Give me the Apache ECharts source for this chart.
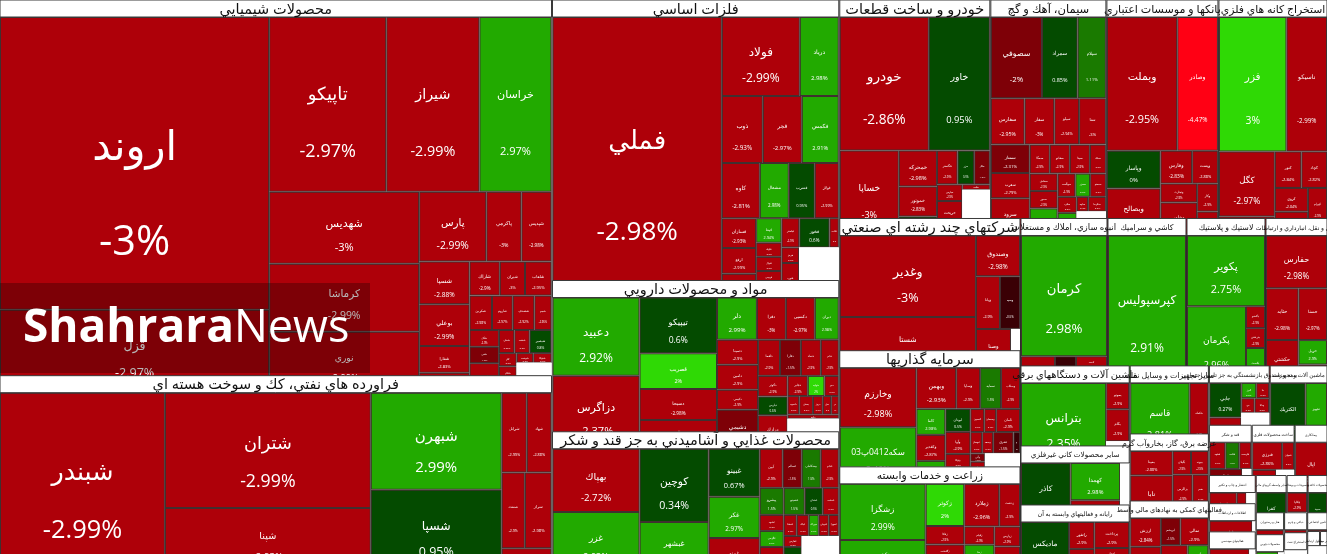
<!DOCTYPE html>
<html>
<head>
<meta charset="utf-8">
<style>
html, body { margin: 0; padding: 0; width: 1327px; height: 554px; overflow: hidden; background: #fff; }
#container { width: 1327px; height: 571px; }
</style>
<script src="https://cdn.jsdelivr.net/npm/echarts@6/dist/echarts.min.js"></script>
</head>
<body>
<div id="container"></div>
<script>
// each sector: tickers, tile sizes, % change. '' = empty white tile
var chemNames = ['اروند','قزل','تاپيكو','شيراز','خراسان','شهديس','كرماشا','نوري','پارس','پاكرمي','شپديس','شسپا','بوعلي','شفارا','شكلر','شاراك','شيران','شلعاب','شكربن','شاروم','شصدف','شجم','شگل','شفن','شيمي','شملي','شنفت','شبصير','كلر','شكام','سبلان','شوينده','شتوكا',''];
var chemValues = [78817,22058,20475,16275,12600,10800,10200,9000,4690,2450,2100,2150,2100,1350,950,1032,860,903,774,713,744,589,496,480,840,357,352,506,234,252,198,160,176,1010];
var chemChanges = [-3,-2.97,-2.97,-2.99,2.97,-3,-2.99,-2.99,-2.99,-3,-2.98,-2.88,-2.99,-2.83,-2.9,-2.9,-3,-2.95,-2.98,-2.97,-2.92,-2.96,-2.9,-1.5,-2.9,-2.95,-2.9,0.8,-2.9,-2.9,-2.9,-2.9,-2.9,null];

var oilNames = ['شبندر','شتران','شپنا','شبهرن','شسپا','شرانل','شهاد','شنفت','سراز','شپاس'];
var oilValues = [29370,23690,12978,12707,10611,2000,1976,1748,2016,1134];
var oilChanges = [-2.99,-2.99,-2.93,2.99,0.95,-2.99,-2.88,-2.9,-2.98,-2.9];

var metalNames = ['فملي','فولاد','درياد','ذوب','فجر','فكمس','كاوه','مشعال','فسرب','فولاژ','فسازان','ارفع','فرود','فپنتا','فلوله','فنوال','فروس','فاسمين','فباهنر','فخوز','فلات','هرمز','فنورد',''];
var metalValues = [47320,6162,3081,2747,2613,2479,2090,1595,1430,1320,1020,884,782,624,360,360,336,312,520,884,273,273,588,1944];
var metalChanges = [-2.98,-2.99,2.98,-2.93,-2.97,2.91,-2.81,2.98,0.95,-2.99,-2.93,-2.99,-2.9,2.94,-2.9,-2.9,-2.9,-2.9,-2.9,0.6,-2.9,-2.9,-2.9,null];

var drugNames = ['دعبيد','دزاگرس','تيپيكو','قصريب','دسبحا','دالبر','دلر','دفرا','دكسپي','ديران','دسينا','دامين','دكيمي','دشيمي','دلقما','دفارا','دتماد','ددام','دكوثر','دپارس','درازك','دجابر','دتوليد','ديپر','داسوه','پخش','دروز','دشيري','دروپ','داوه',''];
var drugValues = [6786,6264,4312,2772,2387,2150,1680,1218,1218,1008,1025,1025,820,1558,792,756,720,648,609,551,957,408,336,288,216,252,182,154,140,216,1484];
var drugChanges = [2.92,-2.37,0.6,2,-2.98,-2.9,2.99,-3,-2.97,2.98,-2.9,-2.9,-2.9,-1.5,-2.9,-1.5,-2.9,-2.9,-2.9,0.6,-2.9,-2.9,2,-2.9,-2.9,-2.9,-2.9,-2.9,-2.9,-2.9,null];

var foodNames = ['بهپاك','غزر','كوچين','غبشهر','غبينو','غكر','غپينو','آبين','غسالم','پيشگامان','غدام','پيشرو','غصينو','غشان','غدشت','غشهد','غگرجي','غمارگ','غنيشا','غپاك','خوراك','غنوش','غمهرا','غفارس','غالبر',''];
var foodValues = [5481,5133,5037,3381,2448,2091,1683,897,741,741,702,648,567,486,432,384,384,576,273,252,210,210,210,198,432,1295];
var foodChanges = [-2.72,2.93,0.34,2.9,0.67,2.97,-2.9,-2.9,-1.5,1.5,-2.9,1.5,1.5,0.5,-2.9,-2.9,2.9,-2.9,-2.9,-2.9,2.9,-2.9,-2.9,-2.9,0.5,null];

var autoNames = ['خودرو','خاور','خساپا','خمحركه','خموتور','خپويا','خگستر','خزر','خكار','خپارس','خريخت','خبهمن','خلنت',''];
var autoValues = [11837,8113,4930,1369,1140,684,693,561,528,420,651,195,150,1221];
var autoChanges = [-2.86,0.95,-3,-2.98,-2.83,0.5,-2.9,0.5,-1.5,-2.9,-2.9,-2.9,-2.9,null];

var cementNames = ['سصوفي','سمراد','سيلام','سفارس','سفار','سيلو','سنا','سمتاز','سغرب','سرود','سمگا','سفانو','سيتا','سيلك','سخاش','سدور','سجام','سهگمت','سخزر','سبجنو','سكرد','كرتا','ساوه','سكرما',''];
var cementValues = [4160,2900,2300,1564,1380,1150,1242,1102,988,1406,580,580,580,464,486,486,729,414,345,368,306,414,168,260,672];
var cementChanges = [-2,0.85,1.11,-2.95,-3,-2.94,-3,-2.31,-2.79,-2.9,-2.9,-2.9,-2.9,-2.9,-2.9,-2.9,2.9,-2.9,2.9,-2.9,-2.9,2.9,-2.9,-2.9,null];

var bankNames = ['وبملت','وصادر','وپاسار','وبصالح','وفارس','وپست','وتجارت','وخاور','وكار','وسينا'];
var bankValues = [9514,5494,2052,2484,1056,858,703,1184,588,483];
var bankChanges = [-2.95,-4.47,0,-2.83,-2.83,-2.88,-2.9,-2.9,-2.9,-2.9];

var mineNames = ['فزر','ناسيكو','كگل','ومعادن','كنور','كچاد','كروي','كبافق','كهرام',''];
var mineValues = [9000,5400,3596,1000,962,925,780,750,680,200];
var mineChanges = [3,-2.99,-2.97,-2.9,-2.84,-2.82,-2.84,-2.82,-2.9,null];

var multiNames = ['وغدير','شستا','وصندوق','وپانا','وسپه','وصنا',''];
var multiValues = [11152,6800,1804,1272,1060,1330,342];
var multiChanges = [-3,-2.93,-2.98,-2.9,-0.5,-2.9,null];

var investNames = ['وخارزم','سكه0412پ03','وبهمن','وساپا','سمايه','وسكاب','كاما','وكغدير','ثنوسا','لبوتان','وآوا','وتوكا','وتوسم','كيسون','وسبحان','ثامان','ثبهساز','وسعد','ثشرق','وسنا','وآتي','وملي','ونيكي',''];
var investValues = [4560,4256,1640,984,861,779,754,754,638,575,550,350,375,322,276,552,252,234,432,140,120,154,154,1032];
var investChanges = [-2.98,2.46,-2.93,-2.9,1.5,-2.9,2.98,-2.87,2.9,0.5,-2.9,-2.9,-2.9,-2.9,-2.9,-2.9,-2.9,-2.9,-1.5,-0.5,-1.5,-2.9,-1.5,null];

var farmNames = ['زشگزا','زكشت','زكوثر','زفكا','زگلدشت','زماهان','زملارد','زدشت','زقيام','زبينا','زشريف','زپارس','زنجان'];
var farmValues = [4760,2635,1610,700,525,490,1472,874,540,459,324,506,622];
var farmChanges = [2.99,2.9,2,-2.9,-2.9,-2.9,-2.96,-2.9,-2.9,2.9,-2.9,-2.9,-2.9];

var buildNames = ['كرمان','ثباغ','ثغرب','ثاخت',''];
var buildValues = [10527,884,546,416,390];
var buildChanges = [2.98,-2.9,-0.5,-2.9,null];

var ceramicNames = ['كپرسپوليس'];
var ceramicValues = [10112];
var ceramicChanges = [2.91];

var plasticNames = ['پكوير','پكرمان','پاكشو','پدرخش','پلاست'];
var plasticValues = [5538,4484,418,380,646];
var plasticChanges = [2.75,2.96,-2.9,-2.9,2.9];

var transportNames = ['حفارس','حتايد','حسنا','حكشتي','حريل','حپترو'];
var transportValues = [3286,1716,1508,1386,714,504];
var transportChanges = [-2.98,-2.98,-2.97,-2.85,2.9,-2.9];

var electricNames = ['بترانس','بموتو','بكام',''];
var electricValues = [6640,598,728,468];
var electricChanges = [2.35,-2.9,-2.9,null];

var mineralNames = ['كاذر','كهمدا','كساپا',''];
var mineralValues = [2891,1862,1029,531];
var mineralChanges = [0.33,2.98,-2.9,null];

var computerNames = ['ماديكس','رانفور','سپ','مرقام','پرداخت','اپرداز','رتاپ'];
var computerValues = [2400,693,336,231,924,400,416];
var computerChanges = [0,-2.9,-2.9,-2.9,-2.9,-2.9,-2.9];

var vehicleNames = ['قاسم','خكمك'];
var vehicleValues = [4080,1292];
var vehicleChanges = [2.81,-2.7];

var powerNames = ['بمپنا','تابا','بگيلان','بپيوند','بزاگرس','بفجر','بكهنوج'];
var powerValues = [1050,1764,437,414,615,492,410];
var powerChanges = [-2.88,-2.9,-2.9,-2.9,-2.9,-2.9,-2.9];

var financeNames = ['ارزش','كي بي سي','ابريشم','تمالي','لوتوس','آتيس','اميد'];
var financeValues = [899,756,540,775,702,416,130];
var financeChanges = [-2.84,-2.88,-1.5,-2.9,-2.9,2.9,-2.9];

var insuranceNames = ['جابي','بپاس','البرز','ما','دي','ودانا',''];
var insuranceValues = [1085,744,225,195,190,209,777];
var insuranceChanges = [0.27,-2.9,2.9,-2.9,-2.9,-2.9,null];

var machineNames = ['الكتريك','تجهيز'];
var machineValues = [2124,1298];
var machineChanges = [0.27,2.9];

var sugarNames = ['قشهد','قثابت','قلرست','قنيشا','قهكمت',''];
var sugarValues = [416,364,312,396,330,198];
var sugarChanges = [-2.9,1.5,-2.9,-1.5,2.9,null];

var metalProductNames = ['فنرژي','فجهان','ورنا',''];
var metalProductValues = [840,336,528,396];
var metalProductChanges = [-2.86,-2.9,-2.9,null];

var contractNames = ['اپال'];
var contractValues = [1600];
var contractChanges = [-2.9];

var s1Names = ['اسناد','تكنو','']; var s1Values = [784,280,252]; var s1Changes = [-2.9,-2.9,null];
var s2Names = ['ثاباد','']; var s2Values = [1232,84]; var s2Changes = [-2.9,null];
var s3Names = ['نشار','']; var s3Values = [943,138]; var s3Changes = [-2.9,null];
var s4Names = ['كفرا']; var s4Values = [1147]; var s4Changes = [0.5];
var s5Names = ['چكاپا','']; var s5Values = [407,333]; var s5Changes = [-2.9,null];
var s6Names = ['سپيد']; var s6Values = [740]; var s6Changes = [0.5];
var s7Names = ['نمرينو','ناما']; var s7Values = [368,253]; var s7Changes = [-2.9,-2.9];
var s8Names = ['لخزر','']; var s8Values = [460,115]; var s8Changes = [2.9,null];
var s9Names = ['گشان','']; var s9Values = [276,184]; var s9Changes = [-2.9,null];
var s10Names = ['']; var s10Values = [513]; var s10Changes = [null];
var s11Names = ['لپارس','']; var s11Values = [120,260]; var s11Changes = [-2.9,null];
var s12Names = ['']; var s12Values = [180]; var s12Changes = [null];
var s13Names = ['']; var s13Values = [105]; var s13Changes = [null];
var s14Names = ['']; var s14Values = [190]; var s14Changes = [null];

var sectors = [
    ['محصولات شيميايي', 207000, chemNames, chemValues, chemChanges],
    ['فراورده هاي نفتي، كك و سوخت هسته اي', 98808, oilNames, oilValues, oilChanges],
    ['فلزات اساسي', 80360, metalNames, metalValues, metalChanges],
    ['مواد و محصولات دارويي', 43337, drugNames, drugValues, drugChanges],
    ['محصولات غذايي و آشاميدني به جز قند و شكر', 35301, foodNames, foodValues, foodChanges],
    ['خودرو و ساخت قطعات', 32918, autoNames, autoValues, autoChanges],
    ['سيمان، آهك و گچ', 25288, cementNames, cementValues, cementChanges],
    ['بانكها و موسسات اعتباري', 24416, bankNames, bankValues, bankChanges],
    ['استخراج كانه هاي فلزي', 23762, mineNames, mineValues, mineChanges],
    ['شركتهاي چند رشته اي صنعتي', 23892, multiNames, multiValues, multiChanges],
    ['سرمايه گذاريها', 20996, investNames, investValues, investChanges],
    ['زراعت و خدمات وابسته', 15928, farmNames, farmValues, farmChanges],
    ['انبوه سازي، املاك و مستغلات', 12789, buildNames, buildValues, buildChanges],
    ['كاشي و سراميك', 11613, ceramicNames, ceramicValues, ceramicChanges],
    ['لاستيك و پلاستيك', 11613, plasticNames, plasticValues, plasticChanges],
    ['حمل و نقل، انبارداري و ارتباطات', 9114, transportNames, transportValues, transportChanges],
    ['ماشين آلات و دستگاههاي برقي', 8720, electricNames, electricValues, electricChanges],
    ['ساير محصولات كاني غيرفلزي', 6431, mineralNames, mineralValues, mineralChanges],
    ['رايانه و فعاليتهاي وابسته به آن', 5450, computerNames, computerValues, computerChanges],
    ['ساير تجهيزات و وسايل نقليه', 5372, vehicleNames, vehicleValues, vehicleChanges],
    ['عرضه برق، گاز، بخاروآب گرم', 5293, powerNames, powerValues, powerChanges],
    ['فعاليتهاي كمكي به نهادهاي مالي واسط', 4266, financeNames, financeValues, financeChanges],
    ['بيمه و صندوق بازنشستگي به جز تامين اجتماعي', 3599, insuranceNames, insuranceValues, insuranceChanges],
    ['ماشين آلات و تجهيزات', 3422, machineNames, machineValues, machineChanges],
    ['قند و شكر', 2150, sugarNames, sugarValues, sugarChanges],
    ['ساخت محصولات فلزي', 2150, metalProductNames, metalProductValues, metalProductChanges],
    ['پيمانكاري', 1650, contractNames, contractValues, contractChanges],
    ['انتشار و چاپ و تكثير', 1316, s1Names, s1Values, s1Changes],
    ['اطلاعات و ارتباطات', 1316, s2Names, s2Values, s2Changes],
    ['فعاليتهاي مهندسي', 1081, s3Names, s3Values, s3Changes],
    ['ساير واسطه گريهاي مالي', 1147, s4Names, s4Values, s4Changes],
    ['منسوجات و پوشاك', 777, s5Names, s5Values, s5Changes],
    ['محصولات كاغذي', 740, s6Names, s6Values, s6Changes],
    ['هتل و رستوران', 621, s7Names, s7Values, s7Changes],
    ['محصولات چوبي', 575, s8Names, s8Values, s8Changes],
    ['دباغي و چرم', 460, s9Names, s9Values, s9Changes],
    ['استخراج نفت', 513, s10Names, s10Values, s10Changes],
    ['تامين اجتماعي', 380, s11Names, s11Values, s11Changes],
    ['وسايل ارتباطي', 180, s12Names, s12Values, s12Changes],
    ['ساير معادن', 105, s13Names, s13Values, s13Changes],
    ['فني مهندسي', 190, s14Names, s14Values, s14Changes]
];

var FONT = '"Open Sans", "DejaVu Sans", sans-serif';
var HEADER_HEIGHT = 17;

function tileColor(change) {
    if (change < -4) return '#ff0014';
    if (change < -2.35) return '#ae0009';
    if (change < -1) return '#7e0007';
    if (change < 0) return '#3a0005';
    if (change === 2 || change === 3) return '#2fd905';
    if (change < 1) return '#044b00';
    if (change < 2) return '#1a7a00';
    return '#22aa00';
}

// sizes: laid out rectangles of the previous pass, fonts follow them
function buildData(sizes) {
    return sectors.map(function(sector, i) {
        var node = { name: sector[0], value: sector[1], children: [] };
        sector[2].forEach(function(name, j) {
            var change = sector[4][j];
            var tile = { name: name, value: sector[3][j], change: change };
            if (change === null) {
                tile.itemStyle = { color: '#fff', borderColor: '#fff', borderWidth: 0 };
                tile.label = { show: false };
            } else {
                tile.itemStyle = { color: tileColor(change) };
                if (sizes) {
                    var box = sizes[i].tiles[j];
                    tile.label = {
                        fontSize: Math.max(2.5, Math.min(box.width, box.height) / 6.5),
                        lineHeight: box.height * 0.325
                    };
                }
            }
            node.children.push(tile);
        });
        return node;
    });
}

// sector titles sit one band above each group, on top of the previous group's lower edge
function buildHeaders(sizes) {
    var boxes = [], titles = [];
    sizes.forEach(function(s, i) {
        boxes.push({
            type: 'rect', z: 90, silent: true,
            shape: { x: s.x, y: s.y, width: s.width, height: HEADER_HEIGHT },
            style: { fill: '#fff', stroke: '#3a3a3a', lineWidth: 1 }
        });
        titles.push({
            type: 'text', z: 91, silent: true,
            x: s.x + s.width / 2, y: s.y + HEADER_HEIGHT / 2 + 1,
            style: {
                text: sectors[i][0],
                fill: '#111',
                font: Math.max(3, Math.min(14.5, s.width / 10, s.height / 8)) + 'px ' + FONT,
                align: 'center',
                verticalAlign: 'middle'
            }
        });
    });
    return boxes.concat(titles);
}

function buildWatermark() {
    return [{
        type: 'rect', z: 100, silent: true,
        shape: { x: 0, y: 283, width: 370, height: 90 },
        style: { fill: 'rgba(0,0,0,0.28)' }
    }, {
        type: 'text', z: 101, silent: true, x: 23, y: 306,
        style: {
            text: '{a|Shahrara}{b|News}',
            rich: {
                a: { fill: '#fff', font: 'bold 46px "Open Sans"' },
                b: { fill: '#fff', font: '45px "Open Sans"' }
            }
        }
    }];
}

function buildOption(sizes) {
    return {
        animation: false,
        graphic: sizes ? buildHeaders(sizes).concat(buildWatermark()) : [],
        series: [{
            type: 'treemap',
            left: 0, top: HEADER_HEIGHT, right: 0, height: 554,
            sort: false,
            roam: false,
            nodeClick: false,
            breadcrumb: { show: false },
            upperLabel: { show: false },
            label: {
                show: true,
                position: ['50%', '28.25%'],
                align: 'center',
                verticalAlign: 'top',
                padding: 0,
                color: '#fff',
                fontFamily: FONT,
                ellipsis: '',
                formatter: function(p) {
                    return p.data.change == null ? '' : p.name + '\n' + p.data.change + '%';
                }
            },
            levels: [{
                itemStyle: { borderColor: '#2a2a2a', borderWidth: 0, gapWidth: 1 }
            }, {
                itemStyle: { borderColor: '#fff', borderWidth: 0, gapWidth: 0 }
            }, {
                itemStyle: { borderColor: '#403030', borderWidth: 1, gapWidth: 0 }
            }],
            data: buildData(sizes)
        }]
    };
}

var myChart = echarts.init(document.getElementById('container'), null, { renderer: 'canvas' });
myChart.setOption(buildOption(null));

// second pass: read the rectangles the treemap came up with, size the text after them
var root = myChart.getModel().getSeriesByIndex(0).getData().tree.root;
var sizes = root.children.map(function(group) {
    var g = group.getLayout();
    return {
        x: g.x,
        y: g.y,
        width: g.width,
        height: g.height,
        tiles: group.children.map(function(child) {
            var t = child.getLayout();
            return { width: t.width, height: t.height };
        })
    };
});
myChart.setOption(buildOption(sizes));
</script>
</body>
</html>
